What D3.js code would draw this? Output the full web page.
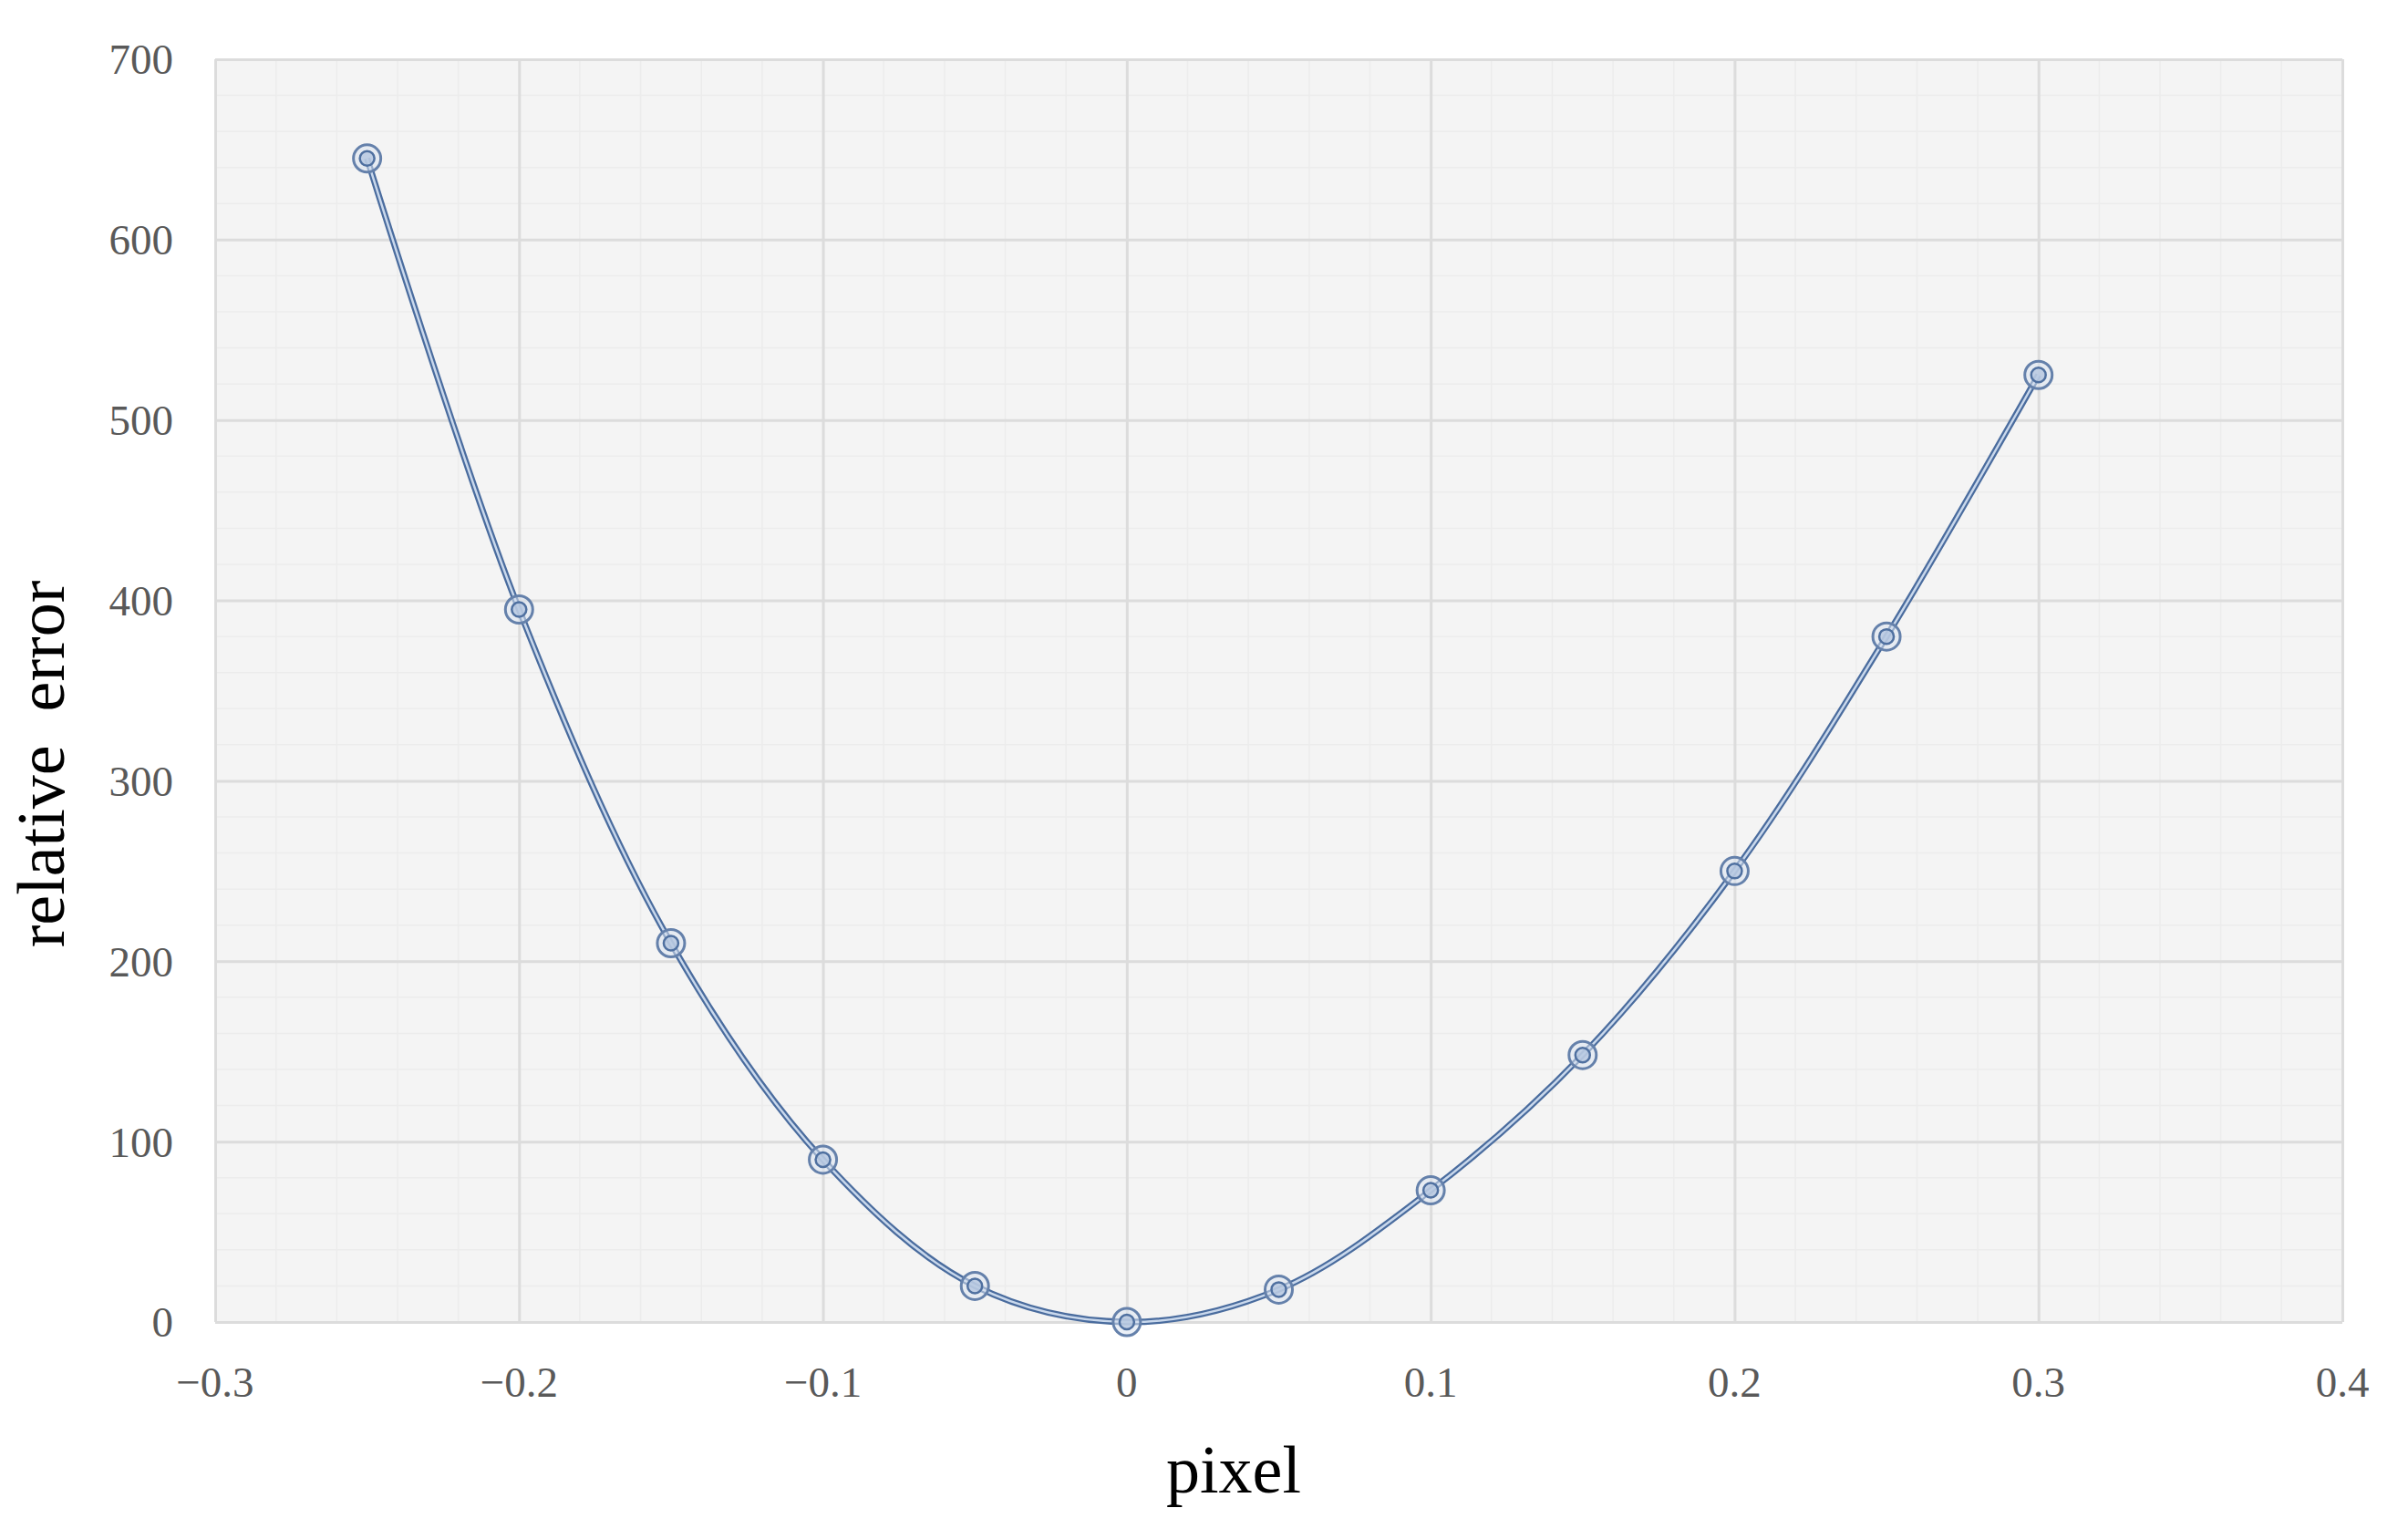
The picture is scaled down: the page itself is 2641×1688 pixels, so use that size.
<!DOCTYPE html>
<html><head><meta charset="utf-8">
<script src="https://cdn.jsdelivr.net/npm/d3@7"></script>
<style>html,body{margin:0;padding:0;background:#fff;}</style>
</head><body>
<svg id="chart" width="2641" height="1688"></svg>
<script>
const pixelX = [-0.25, -0.2, -0.15, -0.1, -0.05, 0, 0.05, 0.1, 0.15, 0.2, 0.25, 0.3];
const relError = [645, 395, 210, 90, 20, 0, 18, 73, 148, 250, 380, 525];
const xTicks = [-0.3, -0.2, -0.1, 0, 0.1, 0.2, 0.3, 0.4];
const yTicks = [0, 100, 200, 300, 400, 500, 600, 700];
const xTitle = "pixel";
const yTitle = "relative  error";

const m = {left: 236, right: 2641 - 2569, top: 65, bottom: 1688 - 1450};
const W = 2641, H = 1688;
const svg = d3.select("#chart");
const x = d3.scaleLinear().domain([-0.3, 0.4]).range([m.left, W - m.right]);
const y = d3.scaleLinear().domain([0, 700]).range([H - m.bottom, m.top]);

svg.append("rect").attr("x", x(-0.3)).attr("y", y(700))
  .attr("width", x(0.4) - x(-0.3)).attr("height", y(0) - y(700)).attr("fill", "#f4f4f4");

// minor gridlines
const xMinor = d3.range(-0.3, 0.4001, 0.02);
const yMinor = d3.range(0, 700.1, 20);
svg.append("g").selectAll("line").data(xMinor).join("line")
  .attr("x1", d => x(d)).attr("x2", d => x(d)).attr("y1", y(0)).attr("y2", y(700))
  .attr("stroke", "#ececec").attr("stroke-width", 1.5);
svg.append("g").selectAll("line").data(yMinor).join("line")
  .attr("y1", d => y(d)).attr("y2", d => y(d)).attr("x1", x(-0.3)).attr("x2", x(0.4))
  .attr("stroke", "#ececec").attr("stroke-width", 1.5);

// major gridlines
svg.append("g").call(d3.axisBottom(x).tickValues(xTicks).tickSize(-(y(0) - y(700))).tickFormat(""))
  .attr("transform", `translate(0,${y(0)})`)
  .call(g => g.select(".domain").remove())
  .call(g => g.selectAll("line").attr("stroke", "#dcdcdc").attr("stroke-width", 3));
svg.append("g").call(d3.axisLeft(y).tickValues(yTicks).tickSize(-(x(0.4) - x(-0.3))).tickFormat(""))
  .attr("transform", `translate(${x(-0.3)},0)`)
  .call(g => g.select(".domain").remove())
  .call(g => g.selectAll("line").attr("stroke", "#dcdcdc").attr("stroke-width", 3));

// tick labels
const fmtX = d => d === 0 ? "0" : (d < 0 ? "\u2212" + Math.abs(d) : String(d));
svg.append("g").selectAll("text").data(xTicks).join("text")
  .attr("x", d => x(d)).attr("y", 1532).attr("text-anchor", "middle")
  .attr("font-family", "Liberation Serif, serif").attr("font-size", 47).attr("fill", "#595959")
  .text(d => fmtX(Math.round(d * 10) / 10));
svg.append("g").selectAll("text").data(yTicks).join("text")
  .attr("x", 190).attr("y", d => y(d)).attr("dy", "0.35em").attr("text-anchor", "end")
  .attr("font-family", "Liberation Serif, serif").attr("font-size", 47).attr("fill", "#595959")
  .text(d => d);

// titles
svg.append("text").attr("x", 1353).attr("y", 1637).attr("text-anchor", "middle")
  .attr("font-family", "Liberation Serif, serif").attr("font-size", 74).attr("fill", "#000")
  .text(xTitle);
svg.append("text").attr("transform", `translate(70,838) rotate(-90)`).attr("text-anchor", "middle")
  .attr("font-family", "Liberation Serif, serif").attr("font-size", 74).attr("fill", "#000")
  .attr("xml:space", "preserve").style("white-space", "pre")
  .text(yTitle);

// line
const data = pixelX.map((v, i) => [v, relError[i]]);
const line = d3.line().x(d => x(d[0])).y(d => y(d[1])).curve(d3.curveCatmullRom);
svg.append("path").attr("d", line(data)).attr("fill", "none")
  .attr("stroke", "#4a6c9e").attr("stroke-width", 7);
svg.append("path").attr("d", line(data)).attr("fill", "none")
  .attr("stroke", "#c9d8ec").attr("stroke-width", 2.5);

// markers
const mk = svg.append("g").selectAll("g").data(data).join("g")
  .attr("transform", d => `translate(${x(d[0])},${y(d[1])})`);
mk.append("circle").attr("r", 15).attr("fill", "#dbe4f1").attr("fill-opacity", 0.55)
  .attr("stroke", "#6581ab").attr("stroke-width", 3);
mk.append("circle").attr("r", 8).attr("fill", "#b5c7e0").attr("fill-opacity", 0.8)
  .attr("stroke", "#4f70a0").attr("stroke-width", 2.5);
</script>
</body></html>
